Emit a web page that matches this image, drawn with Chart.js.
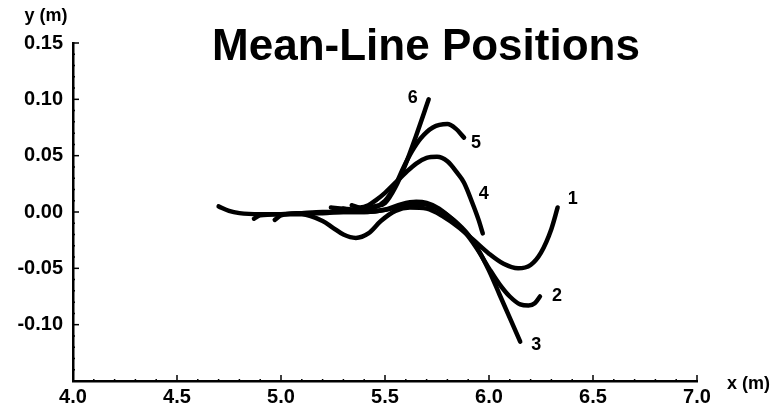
<!DOCTYPE html>
<html>
<head>
<meta charset="utf-8">
<script src="https://cdn.jsdelivr.net/npm/chart.js@4"></script>
<style>
  html, body { margin: 0; padding: 0; background: #fff; }
  #wrap { width: 780px; height: 409px; position: relative; }
</style>
</head>
<body>
<div id="wrap"><canvas id="chart"></canvas></div>
<script>
// Mean-line positions (x and y in metres)
const line1X = [4.70, 4.75, 4.80, 4.90, 5.00, 5.10, 5.20, 5.25, 5.30, 5.36, 5.42, 5.48, 5.55, 5.62, 5.70, 5.78, 5.85, 5.92, 6.00, 6.07, 6.14, 6.20, 6.25, 6.30, 6.33];
const line1Y = [0.005, 0.001, -0.001, -0.002, -0.002, -0.002, -0.008, -0.014, -0.020, -0.023, -0.019, -0.008, 0.001, 0.004, 0.003, -0.004, -0.013, -0.024, -0.037, -0.046, -0.050, -0.047, -0.036, -0.015, 0.004];

const line2X = [4.87, 4.90, 5.00, 5.10, 5.20, 5.30, 5.40, 5.50, 5.58, 5.65, 5.70, 5.76, 5.82, 5.88, 5.94, 6.00, 6.05, 6.10, 6.15, 6.19, 6.22, 6.245];
const line2Y = [-0.006, -0.003, -0.002, -0.001, -0.001, 0.000, 0.000, 0.002, 0.007, 0.009, 0.008, 0.003, -0.006, -0.017, -0.032, -0.050, -0.064, -0.075, -0.082, -0.083, -0.081, -0.075];

const line3X = [4.97, 5.00, 5.10, 5.20, 5.30, 5.40, 5.50, 5.58, 5.65, 5.71, 5.77, 5.83, 5.90, 5.95, 6.00, 6.05, 6.10, 6.15];
const line3Y = [-0.007, -0.003, -0.001, 0.000, 0.000, 0.000, 0.002, 0.005, 0.007, 0.006, 0.001, -0.007, -0.020, -0.034, -0.052, -0.073, -0.094, -0.115];

const line4X = [5.34, 5.38, 5.42, 5.46, 5.50, 5.55, 5.60, 5.65, 5.70, 5.75, 5.80, 5.85, 5.88, 5.92, 5.95, 5.97];
const line4Y = [0.006, 0.004, 0.006, 0.011, 0.017, 0.026, 0.035, 0.043, 0.048, 0.049, 0.045, 0.034, 0.026, 0.008, -0.007, -0.019];

const line5X = [5.24, 5.30, 5.40, 5.45, 5.50, 5.55, 5.59, 5.63, 5.67, 5.73, 5.80, 5.84, 5.88];
const line5Y = [0.004, 0.003, 0.002, 0.004, 0.010, 0.024, 0.040, 0.054, 0.065, 0.075, 0.078, 0.074, 0.066];

const line6X = [5.30, 5.35, 5.40, 5.45, 5.50, 5.55, 5.60, 5.65, 5.71];
const line6Y = [0.003, 0.001, 0.002, 0.005, 0.008, 0.022, 0.043, 0.068, 0.100];

const lineNames = ['1', '2', '3', '4', '5', '6'];
const xTicks = [4.0, 4.5, 5.0, 5.5, 6.0, 6.5, 7.0];
const yTicks = [0.15, 0.10, 0.05, 0.00, -0.05, -0.10];

const allX = [line1X, line2X, line3X, line4X, line5X, line6X];
const allY = [line1Y, line2Y, line3Y, line4Y, line5Y, line6Y];

// where each curve's number sits relative to its last point (px)
const labelOffsets = [[15, -8], [17, 0], [16, 3], [1, -39], [12, 5], [-16, -1]];

const FONT = '"Liberation Sans", Arial, Helvetica, sans-serif';

const datasets = allX.map((xs, i) => ({
  label: lineNames[i],
  data: xs.map((x, j) => ({ x: x, y: allY[i][j] })),
  showLine: true,
  borderColor: '#000',
  borderWidth: 4.5,
  pointRadius: 0,
  fill: false,
  cubicInterpolationMode: 'monotone',
  borderCapStyle: 'round',
  borderJoinStyle: 'round',
}));

// axis ticks, curve numbers, axis titles and main title
const decorations = {
  id: 'decorations',
  afterDraw(chart) {
    const ctx = chart.ctx;
    const xs = chart.scales.x;
    const ys = chart.scales.y;
    const area = chart.chartArea;
    ctx.save();
    ctx.strokeStyle = '#000';
    ctx.lineWidth = 1.5;

    // x ticks (minor every 0.1, major every 0.5), pointing up into the plot
    for (let k = 0; k <= 30; k++) {
      const v = 4 + k * 0.1;
      const px = xs.getPixelForValue(v);
      const len = (k % 5 === 0) ? 6 : 2;
      ctx.beginPath();
      ctx.moveTo(px, area.bottom);
      ctx.lineTo(px, area.bottom - len);
      ctx.stroke();
    }
    // y ticks (minor every 0.01, major every 0.05), pointing right
    for (let k = 0; k <= 30; k++) {
      const v = -0.15 + k * 0.01;
      const py = ys.getPixelForValue(v);
      const len = (k % 5 === 0) ? 6 : 2;
      ctx.beginPath();
      ctx.moveTo(area.left, py);
      ctx.lineTo(area.left + len, py);
      ctx.stroke();
    }

    // curve numbers at the ends of the lines
    ctx.fillStyle = '#000';
    ctx.font = 'bold 18px ' + FONT;
    ctx.textAlign = 'center';
    ctx.textBaseline = 'middle';
    allX.forEach((arr, i) => {
      const last = arr.length - 1;
      const px = xs.getPixelForValue(arr[last]);
      const py = ys.getPixelForValue(allY[i][last]);
      ctx.fillText(lineNames[i], px + labelOffsets[i][0], py + labelOffsets[i][1]);
    });

    // axis titles
    ctx.font = 'bold 18px ' + FONT;
    ctx.fillText('y (m)', 46, 16);
    ctx.textAlign = 'left';
    ctx.fillText('x (m)', 727, 384);

    // main title
    ctx.font = 'bold 44px ' + FONT;
    ctx.textAlign = 'center';
    ctx.textBaseline = 'alphabetic';
    ctx.fillText('Mean-Line Positions', 426, 60);
    ctx.restore();
  }
};

new Chart(document.getElementById('chart'), {
  type: 'scatter',
  data: { datasets: datasets },
  options: {
    responsive: true,
    maintainAspectRatio: false,
    animation: false,
    layout: { padding: { top: 43, right: 83, bottom: 0, left: 0 } },
    plugins: {
      legend: { display: false },
      tooltip: { enabled: false },
      title: { display: false },
    },
    scales: {
      x: {
        type: 'linear',
        min: 4,
        max: 7,
        afterFit: (scale) => { scale.height = 28; },
        afterBuildTicks: (scale) => { scale.ticks = xTicks.map(v => ({ value: v })); },
        grid: { display: false, drawTicks: false },
        border: { display: true, color: '#000', width: 2.5 },
        ticks: {
          color: '#000',
          padding: 4,
          font: { family: FONT, size: 20, weight: 'bold' },
          callback: (v) => v.toFixed(1),
          maxRotation: 0,
        },
      },
      y: {
        type: 'linear',
        min: -0.15,
        max: 0.15,
        afterFit: (scale) => { scale.width = 73; },
        afterBuildTicks: (scale) => { scale.ticks = yTicks.map(v => ({ value: v })); },
        grid: { display: false, drawTicks: false },
        border: { display: true, color: '#000', width: 2.5 },
        ticks: {
          color: '#000',
          padding: 10,
          font: { family: FONT, size: 20, weight: 'bold' },
          callback: (v) => v.toFixed(2),
        },
      },
    },
  },
  plugins: [decorations],
});
</script>
</body>
</html>
